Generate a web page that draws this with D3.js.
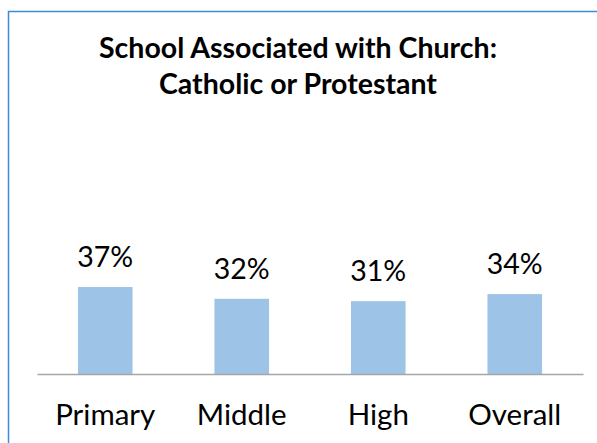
<!DOCTYPE html>
<html>
<head>
<meta charset="utf-8">
<script src="https://cdn.jsdelivr.net/npm/d3@7"></script>
<style>
  html, body { margin: 0; padding: 0; background: #fff; }
  text { font-family: Lato, "Open Sans", sans-serif; fill: #000; }
</style>
</head>
<body>
<div id="chart"></div>
<script>
const categories = ["Primary", "Middle", "High", "Overall"];
const values = [37, 32, 31, 34];
const titleLines = ["School Associated with Church:", "Catholic or Protestant"];

const width = 597, height = 443;

let svg = d3.select("#chart")
    .append("svg")
    .attr("width", width)
    .attr("height", height);

// frame (top and left edges of the chart area)
svg.append("path")
    .attr("d", "M8.5,443 L8.5,11.5 L597,11.5")
    .attr("fill", "none")
    .attr("stroke", "#3d8bd9")
    .attr("stroke-width", 1.5);

let x = d3.scaleBand()
    .domain(categories)
    .range([37, 583])
    .paddingInner(0.6)
    .paddingOuter(0.3);

let y = d3.scaleLinear()
    .domain([0, 40])
    .range([374, 280]);

svg.selectAll(".bar")
    .data(values)
    .enter().append("rect")
    .attr("class", "bar")
    .attr("x", function(d, i) { return x(categories[i]); })
    .attr("y", function(d) { return y(d); })
    .attr("width", x.bandwidth())
    .attr("height", function(d) { return y(0) - y(d); })
    .attr("fill", "#9dc3e6");

// baseline
let axis = svg.append("g")
    .attr("transform", "translate(0," + y(0) + ")")
    .call(d3.axisBottom(x).tickSize(0).tickPadding(0));
axis.select(".domain").attr("stroke", "#a6a6a6").attr("stroke-width", 1.5);
axis.selectAll("text").remove();

svg.selectAll(".cat")
    .data(categories)
    .enter().append("text")
    .attr("class", "cat")
    .attr("x", function(d) { return x(d) + x.bandwidth() / 2; })
    .attr("y", 425)
    .attr("text-anchor", "middle")
    .style("font-size", "29.5px")
    .text(function(d) { return d; });

svg.selectAll(".val")
    .data(values)
    .enter().append("text")
    .attr("class", "val")
    .attr("x", function(d, i) { return x(categories[i]) + x.bandwidth() / 2; })
    .attr("y", function(d) { return y(d) - 20; })
    .attr("text-anchor", "middle")
    .style("font-size", "28.5px")
    .text(function(d) { return d + "%"; });

svg.selectAll(".title")
    .data(titleLines)
    .enter().append("text")
    .attr("class", "title")
    .attr("x", 298)
    .attr("y", function(d, i) { return 58 + i * 36; })
    .attr("text-anchor", "middle")
    .style("font-size", "28.5px")
    .style("font-weight", "bold")
    .text(function(d) { return d; });
</script>
</body>
</html>
